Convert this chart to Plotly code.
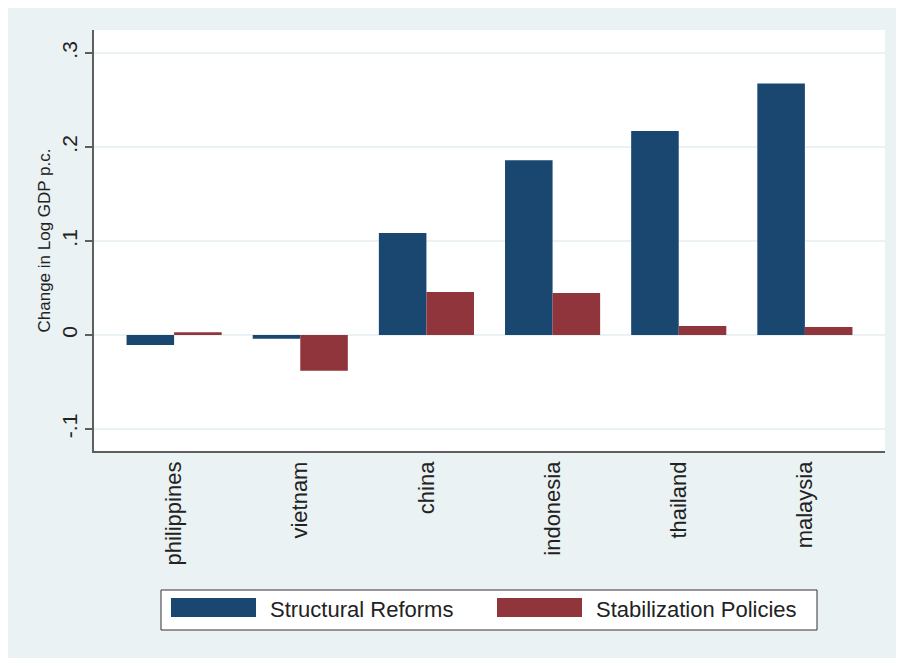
import plotly.graph_objects as go

# data
countries = ["philippines", "vietnam", "china", "indonesia", "thailand", "malaysia"]
structural = [-0.0105, -0.004, 0.1085, 0.186, 0.217, 0.2675]
stabilization = [0.003, -0.038, 0.0457, 0.0447, 0.0096, 0.0085]
y_ticks = [-0.1, 0, 0.1, 0.2, 0.3]
y_labels = ["-.1", "0", ".1", ".2", ".3"]

NAVY = "#1A476F"
RED = "#90353B"
BG = "#EAF2F3"
AXIS = "#5E5E5E"
TXT = "#222222"
FONT = "Liberation Sans, Arial, sans-serif"

W, H = 904, 658
OFF = 8  # page body margin
L, R, T, B = 86, 27, 22, 215
PW, PH = W - L - R, H - T - B


def px(x):
    # screen x -> paper
    return (x - OFF - L) / PW


def py(y):
    # screen y -> paper
    return (H - B - (y - OFF)) / PH


fig = go.Figure()
fig.add_trace(go.Bar(x=countries, y=structural, name="Structural Reforms",
                     marker=dict(color=NAVY, line=dict(width=0))))
fig.add_trace(go.Bar(x=countries, y=stabilization, name="Stabilization Policies",
                     marker=dict(color=RED, line=dict(width=0))))

# legend drawn by hand to get the wide Stata-style swatches
shapes = [
    dict(type="rect", xref="paper", yref="paper",
         x0=px(161), x1=px(817), y0=py(630), y1=py(590),
         fillcolor="white", line=dict(color="#333333", width=1)),
    dict(type="rect", xref="paper", yref="paper",
         x0=px(171), x1=px(256), y0=py(617), y1=py(598),
         fillcolor=NAVY, line=dict(width=0)),
    dict(type="rect", xref="paper", yref="paper",
         x0=px(497), x1=px(582), y0=py(617), y1=py(598),
         fillcolor=RED, line=dict(width=0)),
]

annotations = [
    dict(text="Structural Reforms", xref="paper", yref="paper", x=px(268), y=py(609),
         xanchor="left", yanchor="middle", showarrow=False,
         font=dict(size=22, color=TXT, family=FONT)),
    dict(text="Stabilization Policies", xref="paper", yref="paper", x=px(594), y=py(609),
         xanchor="left", yanchor="middle", showarrow=False,
         font=dict(size=22, color=TXT, family=FONT)),
]

fig.update_layout(
    width=W, height=H,
    margin=dict(l=L, r=R, t=T, b=B, pad=0),
    paper_bgcolor=BG,
    plot_bgcolor="white",
    barmode="group",
    bargap=0.246,
    bargroupgap=0,
    showlegend=False,
    shapes=shapes,
    annotations=annotations,
    font=dict(family=FONT, color=TXT),
)

fig.update_xaxes(
    type="category", range=[-0.635, 5.635],
    showline=True, linecolor=AXIS, linewidth=1.5,
    showgrid=False, ticks="", tickangle=-90,
    tickfont=dict(size=22, family=FONT, color=TXT),
)

fig.update_yaxes(
    range=[-0.1234, 0.3245],
    tickvals=y_ticks, ticktext=y_labels, tickangle=-90,
    ticks="outside", ticklen=7, tickcolor=AXIS, tickwidth=1.5,
    showline=True, linecolor=AXIS, linewidth=1.5,
    showgrid=True, gridcolor=BG, gridwidth=1.5, zeroline=False,
    tickfont=dict(size=21, family=FONT, color=TXT),
    title=dict(text="Change in Log GDP p.c.", standoff=3,
               font=dict(size=17, family=FONT, color=TXT)),
)

fig.write_html("out.html")
